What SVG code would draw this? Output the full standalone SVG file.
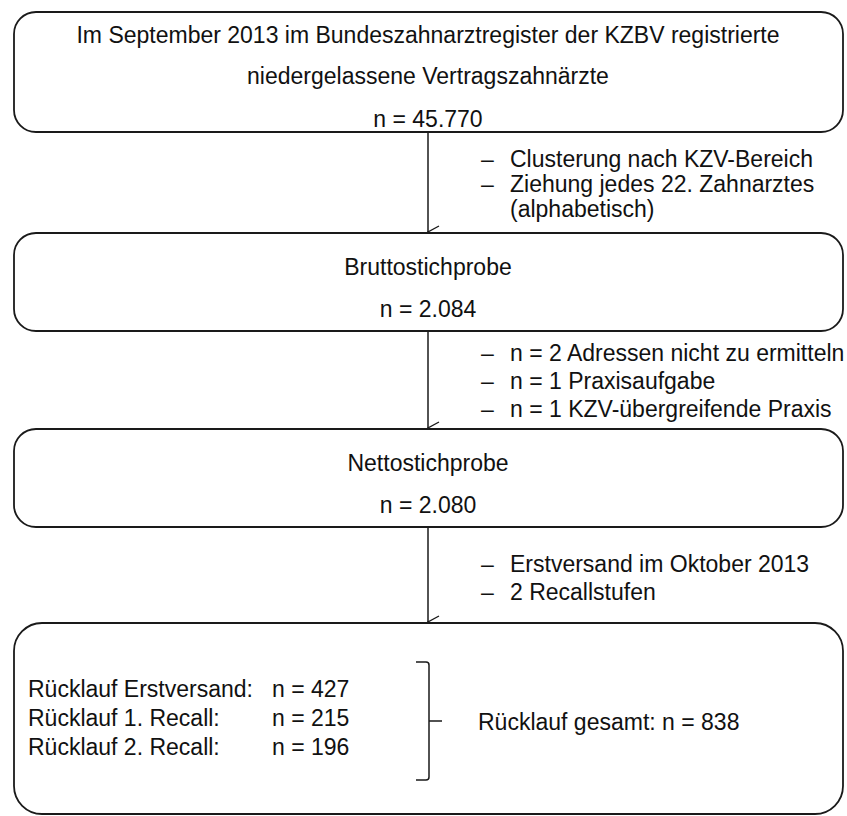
<svg xmlns="http://www.w3.org/2000/svg" width="847" height="816" viewBox="0 0 847 816">
<style>
.box{fill:#fff;stroke:#1a1a1a;stroke-width:1.8}
text{font-family:"Liberation Sans",Arial,sans-serif;font-size:23px;fill:#111}
.c{text-anchor:middle}
.ln{fill:none;stroke:#1a1a1a;stroke-width:1.5}
</style>
<defs>
<marker id="arr" markerWidth="14" markerHeight="14" refX="7" refY="13" orient="auto" markerUnits="userSpaceOnUse" viewBox="0 0 14 14">
<polyline points="1,2 7,13 13,2" fill="none" stroke="#1a1a1a" stroke-width="1.4"/>
</marker>
</defs>
<rect width="847" height="816" fill="#fff"/>
<g id="connectors">
<line class="ln" x1="428" y1="133" x2="428" y2="232" marker-end="url(#arr)"/>
<line class="ln" x1="428" y1="331" x2="428" y2="428" marker-end="url(#arr)"/>
<line class="ln" x1="428" y1="527" x2="428" y2="622" marker-end="url(#arr)"/>
<text x="481" y="167">–</text><text x="510" y="167">Clusterung nach KZV-Bereich</text>
<text x="481" y="192">–</text><text x="510" y="192">Ziehung jedes 22. Zahnarztes</text>
<text x="510" y="217">(alphabetisch)</text>
<text x="481" y="361">–</text><text x="510" y="361">n = 2 Adressen nicht zu ermitteln</text>
<text x="481" y="389">–</text><text x="510" y="389">n = 1 Praxisaufgabe</text>
<text x="481" y="417">–</text><text x="510" y="417">n = 1 KZV-übergreifende Praxis</text>
<text x="481" y="572">–</text><text x="510" y="572">Erstversand im Oktober 2013</text>
<text x="481" y="600">–</text><text x="510" y="600">2 Recallstufen</text>
</g>
<g id="node1">
<rect class="box" x="14" y="12" width="829" height="120" rx="22"/>
<text class="c" x="428" y="43">Im September 2013 im Bundeszahnarztregister der KZBV registrierte</text>
<text class="c" x="428" y="84">niedergelassene Vertragszahnärzte</text>
<text class="c" x="428" y="127">n = 45.770</text>
</g>
<g id="node2">
<rect class="box" x="14" y="233" width="829" height="98" rx="22"/>
<text class="c" x="428" y="275">Bruttostichprobe</text>
<text class="c" x="428" y="317">n = 2.084</text>
</g>
<g id="node3">
<rect class="box" x="14" y="429" width="829" height="98" rx="22"/>
<text class="c" x="428" y="471">Nettostichprobe</text>
<text class="c" x="428" y="513">n = 2.080</text>
</g>
<g id="node4">
<rect class="box" x="14" y="623" width="829" height="191" rx="28"/>
<text x="28" y="697">Rücklauf Erstversand:</text><text x="272" y="697">n = 427</text>
<text x="28" y="726">Rücklauf 1. Recall:</text><text x="272" y="726">n = 215</text>
<text x="28" y="755">Rücklauf 2. Recall:</text><text x="272" y="755">n = 196</text>
<path class="ln" d="M416,662 H426 Q429,662 429,665 V777 Q429,780 426,780 H416 M429,721 H442"/>
<text x="478" y="730">Rücklauf gesamt: n = 838</text>
</g>
</svg>
